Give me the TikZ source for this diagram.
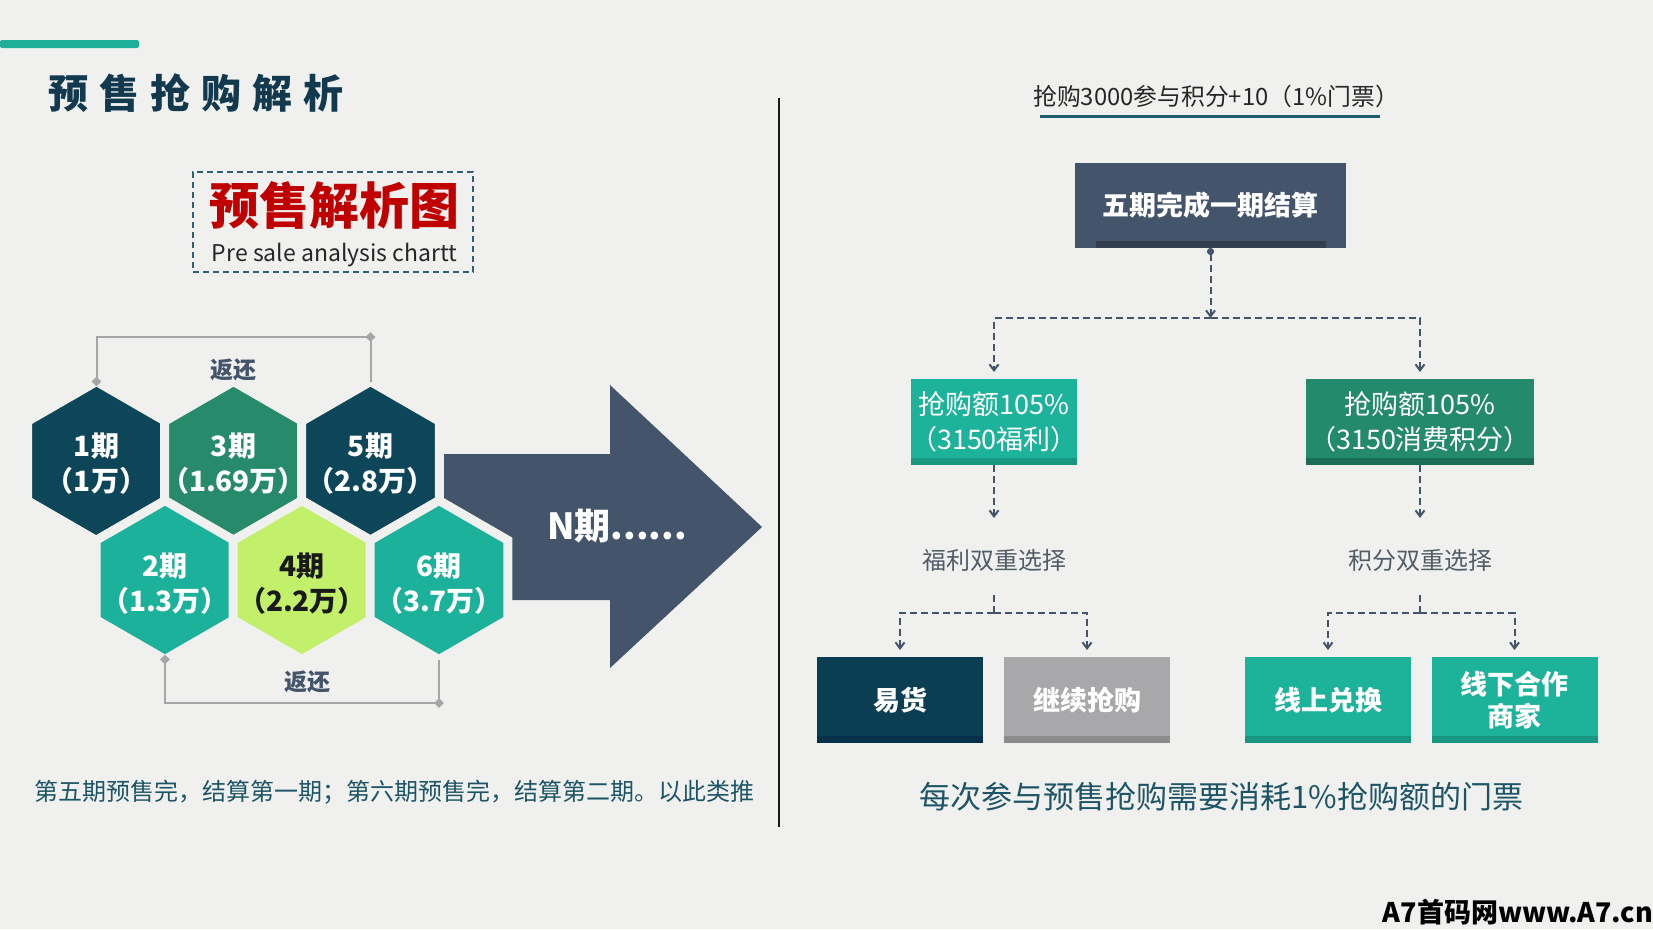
\documentclass[tikz,border=0pt]{standalone}
\usepackage{fontspec}
\setmainfont{Noto Sans CJK SC}
\newfontfamily\haltfont[RawFeature=+halt]{Noto Sans CJK SC}
\usetikzlibrary{shapes.geometric,arrows.meta}
\definecolor{bg}{HTML}{F0F1EF}
\definecolor{tealbar}{HTML}{1DAF98}
\definecolor{titlec}{HTML}{12394D}
\definecolor{boxborder}{HTML}{2F5F73}
\definecolor{redc}{HTML}{C00000}
\definecolor{hexdark}{HTML}{0E4659}
\definecolor{hexgreen}{HTML}{268A6B}
\definecolor{hexteal}{HTML}{1BB19A}
\definecolor{hexlime}{HTML}{C3F06B}
\definecolor{slate}{HTML}{44546A}
\definecolor{slatedk}{HTML}{333F50}
\definecolor{connc}{HTML}{A6A6A6}
\definecolor{captc}{HTML}{1E5566}
\definecolor{ulc}{HTML}{1D5D6B}
\definecolor{tealc}{HTML}{1DB39A}
\definecolor{tealdk}{HTML}{17977F}
\definecolor{greenc}{HTML}{238A6B}
\definecolor{greendk}{HTML}{1B6E55}
\definecolor{navyc}{HTML}{0B3E52}
\definecolor{navydk}{HTML}{05304A}
\definecolor{grayc}{HTML}{A8A8AA}
\definecolor{graydk}{HTML}{8C8C8C}
\definecolor{graytext}{HTML}{525C69}
\newcommand\fsz[2]{\fontsize{#1}{#2}\selectfont}
\begin{document}
\begin{tikzpicture}[x=1pt,y=-1pt,
  hexa/.style={regular polygon, regular polygon sides=6, shape border rotate=30,
    minimum size=159pt, inner sep=0pt, outer sep=0pt, draw=bg, line width=9pt},
  hextxt/.style={text=white, font=\haltfont\bfseries\fsz{28}{35}, align=center, inner sep=0pt},
  conn/.style={draw=connc, line width=2pt},
  dia/.style={diamond, fill=connc, inner sep=0pt, minimum size=10pt},
  retlbl/.style={text=slate, font=\bfseries\fsz{23}{28}},
  box/.style={rectangle, inner sep=0pt, outer sep=0pt, text=white, align=center},
  dashc/.style={draw=slate, line width=2pt, dash pattern=on 7pt off 4pt},
  tipc/.style={-{Straight Barb[length=6pt,width=9pt]}},
  choice/.style={text=graytext, font=\fsz{24}{28}}
]
\useasboundingbox (0,0) rectangle (1653,929);
\fill[bg] (0,0) rectangle (1653,929);
\fill[tealbar, rounded corners=2pt] (0,40) rectangle (139,48);
\node[text=titlec, font=\bfseries\fsz{40}{48}] (title) at (195.5,93)
  {预\hspace{11pt}售\hspace{11pt}抢\hspace{11pt}购\hspace{11pt}解\hspace{11pt}析};

% legend box
\node[draw=boxborder, dash pattern=on 6pt off 4pt, line width=1.5pt, minimum width=280pt,
  minimum height=100pt, inner sep=0pt] (legend) at (333,222) {};
\node[text=redc, font=\bfseries\fsz{50}{60}] (redtitle) at (334,206) {预售解析图};
\node[text=black!85, font=\fsz{23}{28}] (engtitle) at (334.5,255) {Pre sale analysis chartt};

% big arrow
\fill[slate] (443,454) -- (610,454) -- (610,385) -- (762,527) -- (610,668) -- (610,600) -- (443,600) -- cycle;
\node[text=white, font=\bfseries\fsz{36}{42}] (nlabel) at (617,526) {N期......};

% hexagons
\node[hexa, fill=hexdark] (h1) at (96.5,461) {};
\node[hexa, fill=hexgreen] (h3) at (233.5,461) {};
\node[hexa, fill=hexdark] (h5) at (370.5,461) {};
\node[hexa, fill=hexteal] (h2) at (165,580) {};
\node[hexa, fill=hexlime] (h4) at (302,580) {};
\node[hexa, fill=hexteal] (h6) at (439,580) {};
\node[hextxt] (t1) at (96.5,464) {1期\\（1万）};
\node[hextxt] (t3) at (233.5,464) {3期\\（1.69万）};
\node[hextxt] (t5) at (370.5,464) {5期\\（2.8万）};
\node[hextxt] (t2) at (165,584) {2期\\（1.3万）};
\node[hextxt, text=black!90] (t4) at (302,584) {4期\\（2.2万）};
\node[hextxt] (t6) at (439,584) {6期\\（3.7万）};

% return connectors
\coordinate (rt) at (370.5,337);
\draw[conn] (h1.north) |- (rt) -- (h5.north);
\node[dia] (dA) at (h1.north) {};
\node[dia] (dB) at (rt) {};
\node[retlbl] (ret1) at (233,370) {返还};
\coordinate (rb) at (439,703);
\draw[conn] (h2.south) |- (rb) -- (h6.south);
\node[dia] (dC) at (h2.south) {};
\node[dia] (dD) at (rb) {};
\node[retlbl] (ret2) at (307,682) {返还};

\node[text=captc, font=\fsz{24}{28}, anchor=west] (caption) at (31,792)
  {第五期预售完，结算第一期；第六期预售完，结算第二期。以此类推};

% divider
\draw[line width=2.5pt, black!90] (779,98) -- (779,827);

% right side
\node[text=black!85, font=\fsz{23.8}{28}] (rtitle) at (1216,96) {抢购3000参与积分+10（1\%门票）};
\draw[line width=3pt, ulc] (1040,116) -- (1380,116);

\node[box, fill=slate, minimum width=271pt, minimum height=85pt, font=\bfseries\fsz{27}{32}] (top) at (1210.5,205.5) {五期完成一期结算};
\fill[slatedk] ([xshift=21pt]top.south west) rectangle ([xshift=-20pt,yshift=7pt]top.south east);

\node[box, fill=tealc, minimum width=166pt, minimum height=86pt, font=\haltfont\fsz{27}{35}] (b1) at (994,422) {抢购额105\%\\（3150福利）};
\fill[tealdk] (b1.south west) rectangle ([yshift=7pt]b1.south east);
\node[box, fill=greenc, minimum width=228pt, minimum height=86pt, font=\haltfont\fsz{27}{35}] (b2) at (1420,422) {抢购额105\%\\（3150消费积分）};
\fill[greendk] (b2.south west) rectangle ([yshift=7pt]b2.south east);

\node[choice] (l1) at (994,560) {福利双重选择};
\node[choice] (l2) at (1420,560) {积分双重选择};

\node[box, fill=navyc, minimum width=166pt, minimum height=86pt, font=\bfseries\fsz{27}{32}] (c1) at (900,700) {易货};
\fill[navydk] (c1.south west) rectangle ([yshift=7pt]c1.south east);
\node[box, fill=grayc, minimum width=166pt, minimum height=86pt, font=\bfseries\fsz{27}{32}] (c2) at (1087,700) {继续抢购};
\fill[graydk] (c2.south west) rectangle ([yshift=7pt]c2.south east);
\node[box, fill=tealc, minimum width=166pt, minimum height=86pt, font=\bfseries\fsz{27}{32}] (c3) at (1328,700) {线上兑换};
\fill[tealdk] (c3.south west) rectangle ([yshift=7pt]c3.south east);
\node[box, fill=tealc, minimum width=166pt, minimum height=86pt, font=\bfseries\fsz{27}{32}] (c4) at (1514.5,700) {线下合作\\商家};
\fill[tealdk] (c4.south west) rectangle ([yshift=7pt]c4.south east);

% dashed connectors
\coordinate (j0) at (1210.5,318);
\draw[dashc, {Circle[length=7pt]}-{Straight Barb[length=6pt,width=9pt]}] (top.south) -- (j0);
\draw[dashc, tipc, shorten >=7pt] (j0) -| (b1.north);
\draw[dashc, tipc, shorten >=7pt] (j0) -| (b2.north);
\coordinate (a1) at (994,518);
\coordinate (a2) at (1420,518);
\draw[dashc, tipc] (b1.south) -- (a1);
\draw[dashc, tipc] (b2.south) -- (a2);
\coordinate (s1) at (994,595);
\coordinate (k1) at (994,613);
\coordinate (s2) at (1420,595);
\coordinate (k2) at (1420,613);
\draw[dashc] (s1) -- (k1);
\draw[dashc] (s2) -- (k2);
\draw[dashc, tipc, shorten >=7pt] (k1) -| (c1.north);
\draw[dashc, tipc, shorten >=7pt] (k1) -| (c2.north);
\draw[dashc, tipc, shorten >=7pt] (k2) -| (c3.north);
\draw[dashc, tipc, shorten >=7pt] (k2) -| (c4.north);

\node[text=captc, font=\fsz{31}{37}] (note) at (1221.5,797) {每次参与预售抢购需要消耗1\%抢购额的门票};
\node[text=black, font=\bfseries\fsz{27}{32}] (wm) at (1518,912) {A7首码网www.A7.cn};
\end{tikzpicture}
\end{document}
